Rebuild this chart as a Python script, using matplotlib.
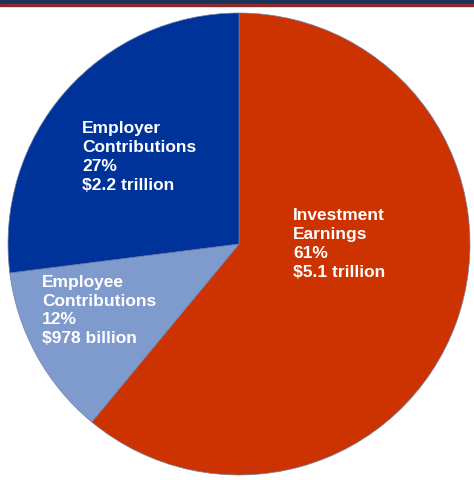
import matplotlib.pyplot as plt
from matplotlib.patches import Rectangle

# sources of plan funding
labels = ["Investment\nEarnings\n61%\n$5.1 trillion",
          "Employee\nContributions\n12%\n$978 billion",
          "Employer\nContributions\n27%\n$2.2 trillion"]
shares = [61, 12, 27]
colors = ["#cc3300", "#7f9acd", "#003399"]

# where each label block sits (axes fraction, top-left corner)
label_pos = [(0.617, 0.580), (0.074, 0.436), (0.160, 0.769)]

W, H = 474, 481
fig = plt.figure(figsize=(W / 100, H / 100), dpi=100)

# header strip
fig.patches.append(Rectangle((0, 1 - 5 / H), 1, 5 / H, transform=fig.transFigure,
                             color="#1a3358", zorder=0))
fig.patches.append(Rectangle((0, 1 - 7 / H), 1, 2 / H, transform=fig.transFigure,
                             color="#8a2a2a", zorder=0))

ax = fig.add_axes([8 / W, 5 / H, 462 / W, 462 / H])
ax.pie(shares, colors=colors, startangle=90, counterclock=False, radius=1,
       wedgeprops=dict(linewidth=0.5, edgecolor="#6f7fa8"))
ax.set_xlim(-1, 1)
ax.set_ylim(-1, 1)
ax.set_aspect("equal")
ax.axis("off")

for text, (x, y) in zip(labels, label_pos):
    ax.text(x, y, text, transform=ax.transAxes, ha="left", va="top",
            color="white", fontsize=12.5, fontweight="bold",
            family="Liberation Sans", linespacing=1.33)

fig.savefig("out.png", dpi=100)
